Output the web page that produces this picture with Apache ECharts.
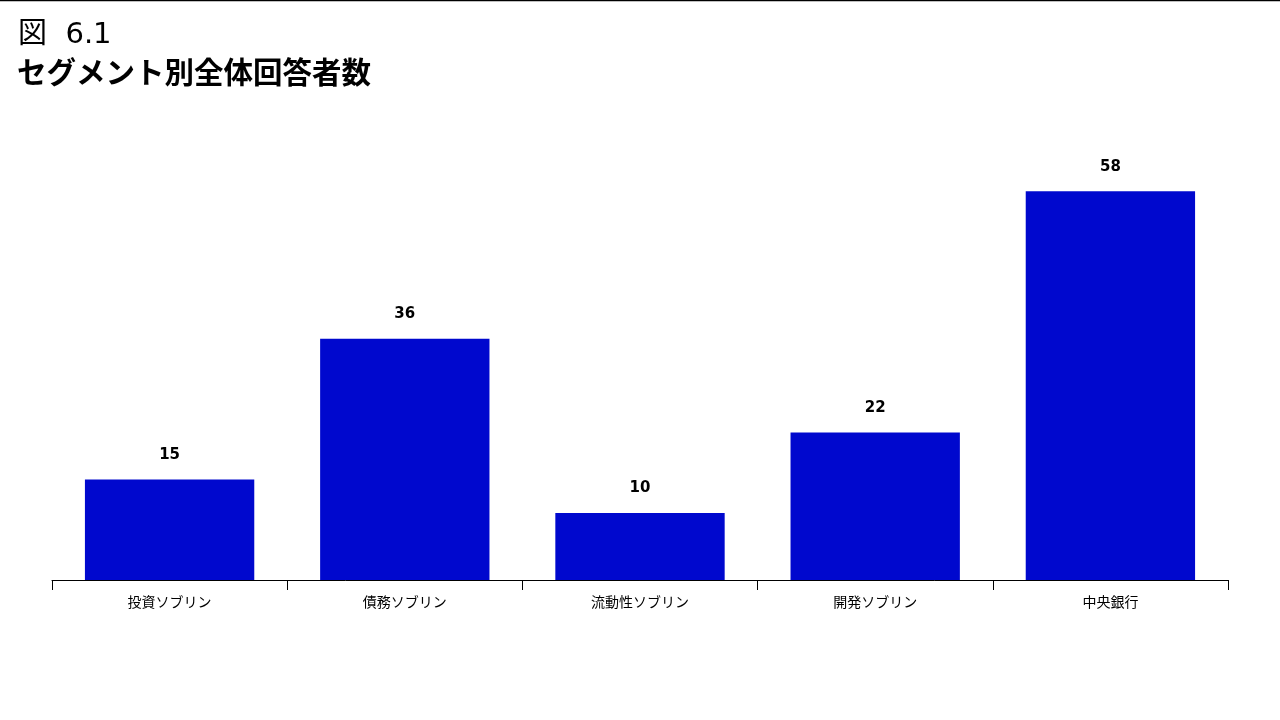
<!DOCTYPE html>
<html><head><meta charset="utf-8">
<script src="https://cdn.jsdelivr.net/npm/echarts@6/dist/echarts.min.js"></script>
<style>html,body{margin:0;padding:0;background:#fff}#c{width:1280px;height:720px}</style>
</head><body><div id="c"></div>
<script>
const categories = ['投資ソブリン','債務ソブリン','流動性ソブリン','開発ソブリン','中央銀行'];
const values = [15, 36, 10, 22, 58];
const figNo = '図  6.1';
const titleText = 'セグメント別全体回答者数';
const font = '"Noto Sans CJK JP", "Noto Sans", sans-serif';
const latinFont = '"DejaVu Sans", "Noto Sans CJK JP", sans-serif';
const chart = echarts.init(document.getElementById('c'));
chart.setOption({
  animation: false,
  graphic: [
    {type:'line', shape:{x1:0,y1:0.5,x2:1280,y2:0.5}, style:{stroke:'#000', lineWidth:1.5}},
    {type:'text', left:18, top:21, style:{text:figNo, font:'29px ' + latinFont, fill:'#000'}},
    {type:'text', left:17, top:57, style:{text:titleText, font:'bold 29.5px ' + font, fill:'#000'}}
  ],
  grid: {left:52, right:52, top:151, bottom:140},
  xAxis: {
    type:'category', data: categories,
    axisLine:{lineStyle:{color:'#000', width:1}},
    axisTick:{show:true, length:10, lineStyle:{color:'#000'}, alignWithLabel:false},
    axisLabel:{color:'#000', fontSize:14, margin:15, fontFamily:font}
  },
  yAxis: {type:'value', min:0, max:64, show:false, splitLine:{show:false}},
  series: [{
    type:'bar', data: values, barCategoryGap:'28%',
    itemStyle:{color:'#0008CE'},
    label:{show:true, position:'top', distance:17, color:'#000', fontWeight:'bold', fontSize:15, fontFamily:latinFont}
  }]
});
</script></body></html>
